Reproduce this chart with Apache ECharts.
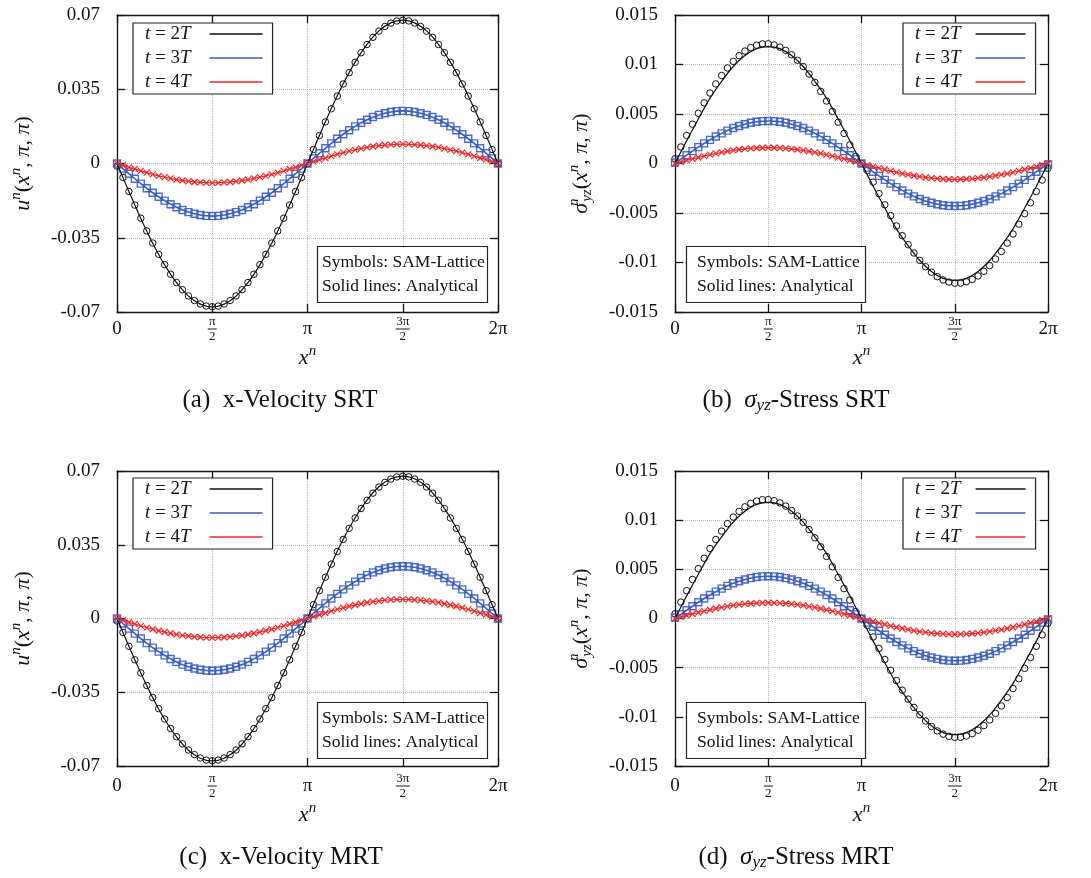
<!DOCTYPE html>
<html><head><meta charset="utf-8">
<script src="https://cdn.jsdelivr.net/npm/echarts@6/dist/echarts.min.js"></script>
<style>html,body{margin:0;padding:0;background:#fff}#c{width:1091px;height:878px}</style>
</head><body><div id="c"></div>
<script>
// ---------------- DATA ----------------
const xTickLabels = ['0', 'π/2', 'π', '3π/2', '2π'];
const uTickLabels = ['-0.07', '-0.035', '0', '0.035', '0.07'];
const sTickLabels = ['-0.015', '-0.01', '-0.005', '0', '0.005', '0.01', '0.015'];
const legendLabels = ['t = 2T', 't = 3T', 't = 4T'];
const captions = ['(a)  x-Velocity SRT', '(b)  σyz-Stress SRT', '(c)  x-Velocity MRT', '(d)  σyz-Stress MRT'];
const noteText = ['Symbols: SAM-Lattice', 'Solid lines: Analytical'];

// lattice positions of symbols (SAM-Lattice)
const xSym = [0, 0.0982, 0.1963, 0.2945, 0.3927, 0.4909, 0.5890, 0.6872, 0.7854, 0.8836, 0.9817, 1.0799, 1.1781, 1.2763, 1.3744, 1.4726, 1.5708,
  1.6690, 1.7671, 1.8653, 1.9635, 2.0617, 2.1598, 2.2580, 2.3562, 2.4544, 2.5525, 2.6507, 2.7489, 2.8471, 2.9452, 3.0434, 3.1416,
  3.2398, 3.3379, 3.4361, 3.5343, 3.6325, 3.7306, 3.8288, 3.9270, 4.0252, 4.1233, 4.2215, 4.3197, 4.4179, 4.5160, 4.6142, 4.7124,
  4.8106, 4.9087, 5.0069, 5.1051, 5.2033, 5.3014, 5.3996, 5.4978, 5.5960, 5.6941, 5.7923, 5.8905, 5.9887, 6.0868, 6.1850, 6.2831];
// positions of analytical curve samples
const xLine = [0, 0.1963, 0.3927, 0.5890, 0.7854, 0.9817, 1.1781, 1.3744, 1.5708, 1.7671, 1.9635, 2.1598, 2.3562, 2.5525, 2.7489, 2.9452, 3.1416,
  3.3379, 3.5343, 3.7306, 3.9270, 4.1233, 4.3197, 4.5160, 4.7124, 4.9087, 5.1051, 5.3014, 5.4978, 5.6941, 5.8905, 6.0868, 6.2831];

// x-velocity, symbols
const u2TSym = [-0.0012, -0.0066, -0.0132, -0.0196, -0.0258, -0.0318, -0.0375, -0.0428, -0.0477, -0.0522, -0.0561, -0.0595, -0.0624, -0.0646, -0.0662, -0.0672, -0.0675,
  -0.0672, -0.0662, -0.0646, -0.0624, -0.0595, -0.0561, -0.0522, -0.0477, -0.0428, -0.0375, -0.0318, -0.0258, -0.0196, -0.0132, -0.0066, 0,
  0.0066, 0.0132, 0.0196, 0.0258, 0.0318, 0.0375, 0.0428, 0.0477, 0.0522, 0.0561, 0.0595, 0.0624, 0.0646, 0.0662, 0.0672, 0.0675,
  0.0672, 0.0662, 0.0646, 0.0624, 0.0595, 0.0561, 0.0522, 0.0477, 0.0428, 0.0375, 0.0318, 0.0258, 0.0196, 0.0132, 0.0066, 0];
const u3TSym = [0, -0.0024, -0.0048, -0.0072, -0.0095, -0.0117, -0.0138, -0.0157, -0.0175, -0.0192, -0.0206, -0.0219, -0.0229, -0.0237, -0.0243, -0.0247, -0.0248,
  -0.0247, -0.0243, -0.0237, -0.0229, -0.0219, -0.0206, -0.0192, -0.0175, -0.0157, -0.0138, -0.0117, -0.0095, -0.0072, -0.0048, -0.0024, 0,
  0.0024, 0.0048, 0.0072, 0.0095, 0.0117, 0.0138, 0.0157, 0.0175, 0.0192, 0.0206, 0.0219, 0.0229, 0.0237, 0.0243, 0.0247, 0.0248,
  0.0247, 0.0243, 0.0237, 0.0229, 0.0219, 0.0206, 0.0192, 0.0175, 0.0157, 0.0138, 0.0117, 0.0095, 0.0072, 0.0048, 0.0024, 0];
const u4TSym = [0, -0.0009, -0.0018, -0.0026, -0.0035, -0.0043, -0.0051, -0.0058, -0.0064, -0.0070, -0.0076, -0.0080, -0.0084, -0.0087, -0.0089, -0.0091, -0.0091,
  -0.0091, -0.0089, -0.0087, -0.0084, -0.0080, -0.0076, -0.0070, -0.0064, -0.0058, -0.0051, -0.0043, -0.0035, -0.0026, -0.0018, -0.0009, 0,
  0.0009, 0.0018, 0.0026, 0.0035, 0.0043, 0.0051, 0.0058, 0.0064, 0.0070, 0.0076, 0.0080, 0.0084, 0.0087, 0.0089, 0.0091, 0.0091,
  0.0091, 0.0089, 0.0087, 0.0084, 0.0080, 0.0076, 0.0070, 0.0064, 0.0058, 0.0051, 0.0043, 0.0035, 0.0026, 0.0018, 0.0009, 0];
// x-velocity, analytical
const u2TLine = [0, -0.0132, -0.0259, -0.0376, -0.0478, -0.0562, -0.0625, -0.0663, -0.0676, -0.0663, -0.0625, -0.0562, -0.0478, -0.0376, -0.0259, -0.0132, 0,
  0.0132, 0.0259, 0.0376, 0.0478, 0.0562, 0.0625, 0.0663, 0.0676, 0.0663, 0.0625, 0.0562, 0.0478, 0.0376, 0.0259, 0.0132, 0];
const u3TLine = [0, -0.0048, -0.0095, -0.0138, -0.0175, -0.0206, -0.0229, -0.0243, -0.0248, -0.0243, -0.0229, -0.0206, -0.0175, -0.0138, -0.0095, -0.0048, 0,
  0.0048, 0.0095, 0.0138, 0.0175, 0.0206, 0.0229, 0.0243, 0.0248, 0.0243, 0.0229, 0.0206, 0.0175, 0.0138, 0.0095, 0.0048, 0];
const u4TLine = [0, -0.0018, -0.0035, -0.0051, -0.0064, -0.0076, -0.0084, -0.0089, -0.0091, -0.0089, -0.0084, -0.0076, -0.0064, -0.0051, -0.0035, -0.0018, 0,
  0.0018, 0.0035, 0.0051, 0.0064, 0.0076, 0.0084, 0.0089, 0.0091, 0.0089, 0.0084, 0.0076, 0.0064, 0.0051, 0.0035, 0.0018, 0];

// sigma_yz stress, symbols
const s2TSym = [0.00048, 0.00167, 0.00283, 0.00397, 0.00507, 0.00613, 0.00712, 0.00804, 0.00889, 0.00965, 0.01032, 0.01089, 0.01136, 0.01171, 0.01195, 0.01208, 0.01209,
  0.01198, 0.01176, 0.01143, 0.01098, 0.01043, 0.00979, 0.00904, 0.00820, 0.00729, 0.00631, 0.00526, 0.00417, 0.00304, 0.00188, 0.00070, 0,
  -0.00070, -0.00188, -0.00304, -0.00417, -0.00526, -0.00631, -0.00729, -0.00820, -0.00904, -0.00979, -0.01043, -0.01098, -0.01143, -0.01176, -0.01198, -0.01209,
  -0.01208, -0.01195, -0.01171, -0.01136, -0.01089, -0.01032, -0.00965, -0.00889, -0.00804, -0.00712, -0.00613, -0.00507, -0.00397, -0.00283, -0.00167, -0.00048];
const s3TSym = [0.0001, 0.00042, 0.00084, 0.00125, 0.00165, 0.00203, 0.00239, 0.00273, 0.00304, 0.00332, 0.00358, 0.00379, 0.00397, 0.00411, 0.00422, 0.00428, 0.0043,
  0.00428, 0.00422, 0.00411, 0.00397, 0.00379, 0.00358, 0.00332, 0.00304, 0.00273, 0.00239, 0.00203, 0.00165, 0.00125, 0.00084, 0.00042, 0,
  -0.00042, -0.00084, -0.00125, -0.00165, -0.00203, -0.00239, -0.00273, -0.00304, -0.00332, -0.00358, -0.00379, -0.00397, -0.00411, -0.00422, -0.00428, -0.0043,
  -0.00428, -0.00422, -0.00411, -0.00397, -0.00379, -0.00358, -0.00332, -0.00304, -0.00273, -0.00239, -0.00203, -0.00165, -0.00125, -0.00084, -0.00042, -0.0001];
const s4TSym = [0, 0.00016, 0.00031, 0.00046, 0.00061, 0.00075, 0.00089, 0.00102, 0.00113, 0.00124, 0.00133, 0.00141, 0.00148, 0.00153, 0.00157, 0.00159, 0.0016,
  0.00159, 0.00157, 0.00153, 0.00148, 0.00141, 0.00133, 0.00124, 0.00113, 0.00102, 0.00089, 0.00075, 0.00061, 0.00046, 0.00031, 0.00016, 0,
  -0.00016, -0.00031, -0.00046, -0.00061, -0.00075, -0.00089, -0.00102, -0.00113, -0.00124, -0.00133, -0.00141, -0.00148, -0.00153, -0.00157, -0.00159, -0.0016,
  -0.00159, -0.00157, -0.00153, -0.00148, -0.00141, -0.00133, -0.00124, -0.00113, -0.00102, -0.00089, -0.00075, -0.00061, -0.00046, -0.00031, -0.00016, 0];
// sigma_yz stress, analytical
const s2TLine = [0, 0.0023, 0.0045, 0.0066, 0.0083, 0.0098, 0.0109, 0.0116, 0.0118, 0.0116, 0.0109, 0.0098, 0.0083, 0.0066, 0.0045, 0.0023, 0,
  -0.0023, -0.0045, -0.0066, -0.0083, -0.0098, -0.0109, -0.0116, -0.0118, -0.0116, -0.0109, -0.0098, -0.0083, -0.0066, -0.0045, -0.0023, 0];
const s3TLine = [0, 0.00084, 0.00165, 0.00239, 0.00304, 0.00358, 0.00397, 0.00422, 0.0043, 0.00422, 0.00397, 0.00358, 0.00304, 0.00239, 0.00165, 0.00084, 0,
  -0.00084, -0.00165, -0.00239, -0.00304, -0.00358, -0.00397, -0.00422, -0.0043, -0.00422, -0.00397, -0.00358, -0.00304, -0.00239, -0.00165, -0.00084, 0];
const s4TLine = [0, 0.00031, 0.00061, 0.00089, 0.00113, 0.00133, 0.00148, 0.00157, 0.0016, 0.00157, 0.00148, 0.00133, 0.00113, 0.00089, 0.00061, 0.00031, 0,
  -0.00031, -0.00061, -0.00089, -0.00113, -0.00133, -0.00148, -0.00157, -0.0016, -0.00157, -0.00148, -0.00133, -0.00113, -0.00089, -0.00061, -0.00031, 0];

// ---------------- CHART ----------------
const FONT = '"Liberation Serif", "Times New Roman", serif';
const INK = '#111';
const COLORS = ['#111111', '#3a5cbc', '#ee2a2a'];

const NF = 22; // axis-name font size
const richBase = {
  i: { fontFamily: FONT, fontStyle: 'italic', fontSize: NF, lineHeight: 28, color: INK },
  p: { fontFamily: FONT, fontSize: NF, lineHeight: 28, color: INK },
  sup: { fontFamily: FONT, fontStyle: 'italic', fontSize: 15, lineHeight: 15, verticalAlign: 'top', color: INK },
  supz: { fontFamily: FONT, fontStyle: 'italic', fontSize: 15, lineHeight: 15, width: 1, verticalAlign: 'top', color: INK },
  sub: { fontFamily: FONT, fontStyle: 'italic', fontSize: 15, lineHeight: 15, verticalAlign: 'bottom', color: INK }
};

const panels = [
  { kind: 'u', grid: { left: 117, top: 15, width: 381, height: 297 }, row: 0, capX: 280, capY: 386, leg: { left: 133, top: 23, tp: 14, iw: 53 }, note: { left: 317, top: 246, pad: [5, 3, 5, 5] } },
  { kind: 's', grid: { left: 675, top: 15, width: 373, height: 297 }, row: 0, capX: 796, capY: 386, leg: { left: 903, top: 23, tp: 10, iw: 50 }, note: { left: 686, top: 246, pad: [5, 6, 5, 11] } },
  { kind: 'u', grid: { left: 117, top: 471, width: 381, height: 295 }, row: 1, capX: 281, capY: 843, leg: { left: 133, top: 478, tp: 14, iw: 53 }, note: { left: 317, top: 702, pad: [5, 3, 5, 5] } },
  { kind: 's', grid: { left: 675, top: 471, width: 373, height: 295 }, row: 1, capX: 796, capY: 843, leg: { left: 903, top: 478, tp: 10, iw: 50 }, note: { left: 686, top: 702, pad: [5, 6, 5, 11] } }
];

const dataSets = {
  u: { sym: [u2TSym, u3TSym, u4TSym], line: [u2TLine, u3TLine, u4TLine], min: -0.07, max: 0.07, interval: 0.035, ticks: uTickLabels,
       name: '{i|u}{sup|n}{p|(}{i|x}{sup|n}{p|, }{i|π}{p|, }{i|π}{p|)}' },
  s: { sym: [s2TSym, s3TSym, s4TSym], line: [s2TLine, s3TLine, s4TLine], min: -0.015, max: 0.015, interval: 0.005, ticks: sTickLabels,
       name: '{i|σ}{supz|n}{sub|yz}{p|(}{i|x}{sup|n}{p|, }{i|π}{p|, }{i|π}{p|)}' }
};

function pairs(xs, ys) { return xs.map((x, i) => [x, ys[i]]); }
function xFmt(v) {
  const s = xTickLabels[Math.round(v / (Math.PI / 2))];
  if (s === undefined) return '';
  if (s.indexOf('/') >= 0) {
    const parts = s.split('/');
    const bar = parts[0].length > 1 ? 'fb2' : 'fb';
    return '{fn|' + parts[0] + '}\n{' + bar + '| }\n{fd|' + parts[1] + '}';
  }
  return '{m|' + s + '}';
}
function legendFmt(name) {
  const s = name.split('|')[1];
  return s.replace(/^t/, '{i|t}').replace(/T$/, '{i|T}');
}
function captionRich(s) { return s.replace('σyz', '{i|σ}{sub|yz}'); }

const option = { animation: false, backgroundColor: '#fff', grid: [], xAxis: [], yAxis: [], series: [], legend: [], title: [] };
const axisLineStyle = { color: INK, width: 1.3 };

panels.forEach((p, k) => {
  const d = dataSets[p.kind];
  option.grid.push(Object.assign({ show: false }, p.grid));
  const lm = p.row === 0 ? 17 : 20;
  const ng = p.row === 0 ? 29 : 35;
  option.xAxis.push({
    type: 'value', gridIndex: k, min: 0, max: Math.PI * 2, interval: Math.PI / 2, position: 'bottom',
    axisLine: { show: true, onZero: false, lineStyle: axisLineStyle },
    axisTick: { show: true, inside: true, length: 8, lineStyle: axisLineStyle },
    splitLine: { show: true, lineStyle: { type: 'dotted', color: '#b8b8b8', width: 1 } },
    axisLabel: {
      formatter: xFmt, margin: lm, verticalAlign: 'middle', color: INK, fontFamily: FONT,
      rich: {
        m: { fontFamily: FONT, fontSize: 19, color: INK },
        fn: { fontFamily: FONT, fontSize: 13, lineHeight: 12, color: INK },
        fd: { fontFamily: FONT, fontSize: 13, lineHeight: 12, color: INK },
        fb: { fontSize: 1, width: 9, height: 1, lineHeight: 3, backgroundColor: INK },
        fb2: { fontSize: 1, width: 14, height: 1, lineHeight: 3, backgroundColor: INK }
      }
    },
    name: '{i|x}{sup|n}', nameLocation: 'middle', nameGap: ng,
    nameTextStyle: { fontFamily: FONT, fontSize: NF, color: INK, rich: richBase }
  });
  option.xAxis.push({
    type: 'value', gridIndex: k, min: 0, max: Math.PI * 2, interval: Math.PI / 2, position: 'top',
    axisLine: { show: true, onZero: false, lineStyle: axisLineStyle },
    axisTick: { show: true, inside: true, length: 8, lineStyle: axisLineStyle },
    axisLabel: { show: false }, splitLine: { show: false }
  });
  option.yAxis.push({
    type: 'value', gridIndex: k, min: d.min, max: d.max, interval: d.interval, position: 'left',
    axisLine: { show: true, onZero: false, lineStyle: axisLineStyle },
    axisTick: { show: true, inside: true, length: 8, lineStyle: axisLineStyle },
    splitLine: { show: true, lineStyle: { type: 'dotted', color: '#b8b8b8', width: 1 } },
    axisLabel: {
      formatter: (v) => d.ticks[Math.round((v - d.min) / d.interval)] || '',
      margin: 17, fontFamily: FONT, fontSize: 19, color: INK
    },
    name: d.name, nameLocation: 'middle', nameRotate: 90, nameGap: 80,
    nameTextStyle: { fontFamily: FONT, fontSize: NF, color: INK, rich: richBase }
  });
  option.yAxis.push({
    type: 'value', gridIndex: k, min: d.min, max: d.max, interval: d.interval, position: 'right',
    axisLine: { show: true, onZero: false, lineStyle: axisLineStyle },
    axisTick: { show: true, inside: true, length: 8, lineStyle: axisLineStyle },
    axisLabel: { show: false }, splitLine: { show: false }
  });

  const names = legendLabels.map(l => 'p' + k + '|' + l);
  const symDefs = [
    { symbol: 'circle', size: 6.5, style: { color: 'transparent', borderColor: '#111', borderWidth: 1 } },
    { symbol: 'rect', size: 7, style: { color: 'transparent', borderColor: 'rgba(58,92,188,0.9)', borderWidth: 1.4 } },
    { symbol: 'path://M0,0L6,6M6,0L0,6', size: 6, style: { color: 'transparent', borderColor: '#ee2a2a', borderWidth: 1.2 } }
  ];
  for (let s = 0; s < 3; s++) {
    option.series.push({
      type: 'scatter', name: names[s] + '|sym', xAxisIndex: 2 * k, yAxisIndex: 2 * k,
      data: pairs(xSym, d.sym[s]), symbol: symDefs[s].symbol, symbolSize: symDefs[s].size,
      itemStyle: Object.assign({ opacity: 1 }, symDefs[s].style), z: 3, silent: true
    });
  }
  for (let s = 0; s < 3; s++) {
    option.series.push({
      type: 'line', name: names[s], xAxisIndex: 2 * k, yAxisIndex: 2 * k,
      data: pairs(xLine, d.line[s]), symbol: 'none', showSymbol: false, smooth: 0.3,
      lineStyle: { color: COLORS[s], width: s === 1 ? 1.6 : 1.2 }, itemStyle: { color: COLORS[s] }, z: 4, silent: true
    });
  }
  option.legend.push({
    data: names.map((n, s) => ({ name: n, icon: 'rect', itemStyle: { color: COLORS[s] } })),
    left: p.leg.left, top: p.leg.top, orient: 'vertical', align: 'right',
    itemWidth: p.leg.iw, itemHeight: 1.5, itemGap: 4, padding: [1, 10, 2, 12],
    borderColor: '#222', borderWidth: 1.2, backgroundColor: '#fff', selectedMode: false,
    formatter: legendFmt,
    textStyle: {
      fontFamily: FONT, fontSize: 19, lineHeight: 20, color: INK, padding: [0, p.leg.tp, 0, 0],
      rich: { i: { fontFamily: FONT, fontStyle: 'italic', fontSize: 19, lineHeight: 20, color: INK } }
    }
  });
  option.title.push({
    text: captionRich(captions[k]), left: p.capX, top: p.capY, textAlign: 'center', padding: 0,
    textStyle: {
      fontFamily: FONT, fontSize: 25, fontWeight: 'normal', lineHeight: 28, color: INK,
      rich: {
        i: { fontFamily: FONT, fontStyle: 'italic', fontSize: 25, lineHeight: 28, color: INK },
        sub: { fontFamily: FONT, fontStyle: 'italic', fontSize: 17, lineHeight: 17, verticalAlign: 'bottom', color: INK }
      }
    }
  });
  option.title.push({
    text: noteText.join('\n'), left: p.note.left, top: p.note.top, padding: p.note.pad,
    borderColor: '#222', borderWidth: 1.2, backgroundColor: '#fff',
    textStyle: { fontFamily: FONT, fontSize: 17.5, fontWeight: 'normal', lineHeight: 23.5, color: INK }
  });
});

const chart = echarts.init(document.getElementById('c'), null, { renderer: 'canvas' });
chart.setOption(option);
</script>
</body></html>
